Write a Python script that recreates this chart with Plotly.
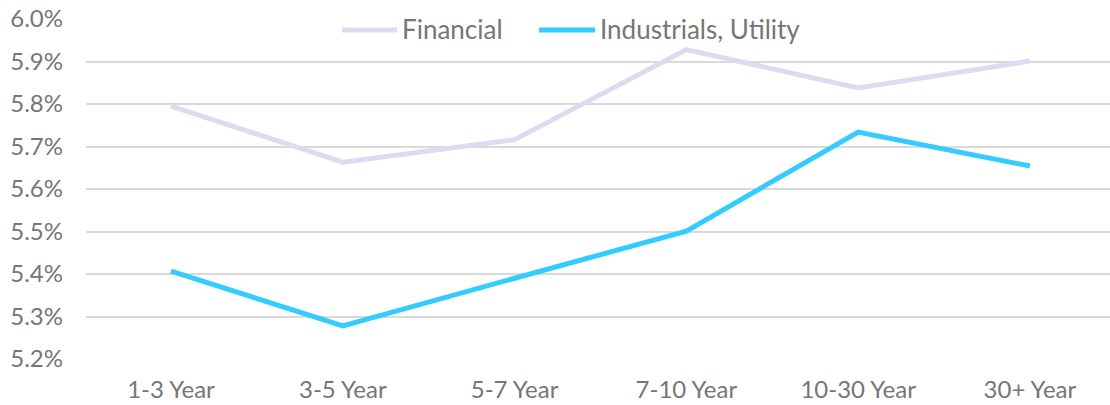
import plotly.graph_objects as go

# Yield by maturity bucket
maturities = ["1-3 Year", "3-5 Year", "5-7 Year", "7-10 Year", "10-30 Year", "30+ Year"]
financial = [5.795, 5.663, 5.716, 5.928, 5.838, 5.901]
industrials_utility = [5.407, 5.278, 5.390, 5.501, 5.734, 5.654]

series_names = ["Financial", "Industrials, Utility"]
series_colors = ["#dcdcf0", "#33ccff"]
y_ticks = [5.2, 5.3, 5.4, 5.5, 5.6, 5.7, 5.8, 5.9, 6.0]

W, H = 1110, 405
ML, MR, MT, MB = 86, 0, 19, 46
font_color = "#767676"
font_family = "Lato, 'Open Sans', sans-serif"

fig = go.Figure()
for name, vals, col in zip(series_names, [financial, industrials_utility], series_colors):
    fig.add_trace(go.Scatter(
        x=list(range(len(maturities))), y=vals, name=name, mode="lines",
        line=dict(color=col, width=5), showlegend=False,
    ))

# Legend drawn with long line samples across the top of the plot
plot_w = W - ML - MR
plot_h = H - MT - MB
def px_x(px):
    return (px - ML) / plot_w
def px_y(py):
    return (H - MB - py) / plot_h

legend_items = [(342, 397, 400), (539, 595, 598)]
for (x0, x1, tx), name, col in zip(legend_items, series_names, series_colors):
    fig.add_shape(type="line", xref="paper", yref="paper",
                  x0=px_x(x0), x1=px_x(x1), y0=px_y(30), y1=px_y(30),
                  line=dict(color=col, width=5))
    fig.add_annotation(xref="paper", yref="paper", x=px_x(tx), y=px_y(29),
                       text=name, showarrow=False, xanchor="left", yanchor="middle",
                       font=dict(size=26, color=font_color, family=font_family))

fig.update_layout(
    width=W, height=H,
    margin=dict(l=ML, r=MR, t=MT, b=MB),
    paper_bgcolor="white", plot_bgcolor="white",
    font=dict(family=font_family, color=font_color, size=24),
    xaxis=dict(
        tickmode="array", tickvals=list(range(len(maturities))), ticktext=maturities,
        range=[-0.495, 5.466], showgrid=False, zeroline=False, showline=False,
        ticks="", ticklabelstandoff=14,
        tickfont=dict(size=24, color=font_color, family=font_family),
    ),
    yaxis=dict(
        range=[5.2, 6.0], tickmode="array", tickvals=y_ticks,
        ticktext=[f"{v:.1f}%" for v in y_ticks],
        showgrid=True, gridcolor="#d9d9d9", gridwidth=1.5,
        zeroline=False, showline=False, ticks="", ticklabelstandoff=22,
        tickfont=dict(size=24, color=font_color, family=font_family),
    ),
)

fig.write_html("out.html")
